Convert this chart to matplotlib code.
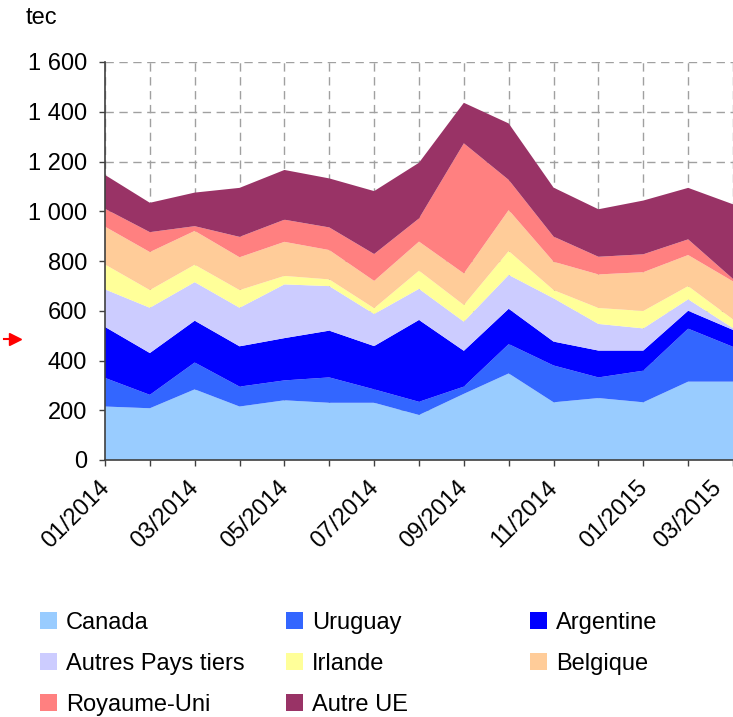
import matplotlib
matplotlib.use('Agg')
import matplotlib.pyplot as plt
import matplotlib.ticker as mtick
from matplotlib.patches import Patch
from matplotlib.lines import Line2D

plt.rcParams['font.family'] = ['Liberation Sans', 'DejaVu Sans']

months = ['01/2014', '02/2014', '03/2014', '04/2014', '05/2014', '06/2014',
          '07/2014', '08/2014', '09/2014', '10/2014', '11/2014', '12/2014',
          '01/2015', '02/2015', '03/2015']

# tec par origine, empilés dans cet ordre (bas -> haut)
canada = [215, 208, 284, 215, 240, 230, 230, 181, 266, 348, 232, 249, 232, 315, 315]
uruguay = [115, 54, 108, 80, 80, 102, 54, 53, 29, 118, 148, 83, 127, 213, 140]
argentine = [205, 168, 168, 162, 170, 188, 174, 329, 144, 142, 96, 108, 81, 72, 68]
autres_pays_tiers = [151, 182, 155, 155, 216, 179, 129, 125, 117, 136, 174, 107, 89, 46, 7]
irlande = [100, 71, 70, 71, 34, 27, 23, 73, 67, 96, 33, 64, 70, 53, 35]
belgique = [152, 153, 136, 132, 137, 118, 110, 117, 127, 165, 114, 135, 156, 125, 153]
royaume_uni = [72, 80, 19, 82, 89, 91, 108, 93, 523, 121, 101, 71, 72, 63, 10]
autre_ue = [136, 118, 135, 197, 200, 197, 253, 224, 163, 227, 197, 191, 216, 207, 300]

labels = ['Canada', 'Uruguay', 'Argentine', 'Autres Pays tiers',
          'Irlande', 'Belgique', 'Royaume-Uni', 'Autre UE']
colors = ['#99CCFF', '#3366FF', '#0000FF', '#CCCCFF',
          '#FFFF99', '#FFCC99', '#FF8080', '#993366']
series = [canada, uruguay, argentine, autres_pays_tiers,
          irlande, belgique, royaume_uni, autre_ue]

FS = 17
W, H = 733, 717

fig = plt.figure(figsize=(W / 100, H / 100), dpi=100)
ax = fig.add_axes([105 / W, 1 - 460 / H, 628 / W, 398 / H])

x = list(range(len(months)))
ax.stackplot(x, *series, colors=colors, linewidth=0, zorder=2)

ax.set_xlim(0, len(months) - 1)
ax.set_ylim(0, 1600)
ax.set_yticks(range(0, 1601, 200))
ax.yaxis.set_major_formatter(
    mtick.FuncFormatter(lambda v, p: f'{int(v):,}'.replace(',', ' ')))
ax.set_xticks(x)
ax.set_xticklabels([])

# étiquettes de mois (une sur deux), inclinées à 45°
for i, m in enumerate(months):
    if i % 2:
        continue
    dx = -5 if i < len(months) - 1 else -16
    ax.annotate(m, xy=(i, 0), xycoords=('data', 'axes fraction'),
                xytext=(dx, -12), textcoords='offset points',
                rotation=45, ha='right', va='top', rotation_mode='anchor',
                fontsize=FS, annotation_clip=False)

ax.grid(True, color='#A0A0A0', linestyle=(0, (6, 4)), linewidth=1, zorder=1)
ax.set_axisbelow(True)
for s in ['top', 'right']:
    ax.spines[s].set_visible(False)
for s in ['left', 'bottom']:
    ax.spines[s].set_color('#404040')
    ax.spines[s].set_linewidth(1.2)
    ax.spines[s].set_zorder(3)
ax.tick_params(axis='both', direction='out', length=4.5, width=1,
               color='#404040', labelsize=FS, labelcolor='black')
ax.tick_params(axis='y', pad=8.5)

fig.text(26 / W, 1 - 18 / H, 'tec', fontsize=FS, ha='left', va='center')

# petite flèche rouge à gauche
fig.add_artist(Line2D([4 / W, 14 / W], [1 - 339 / H] * 2,
                      transform=fig.transFigure, color='red', linewidth=1.5))
fig.add_artist(Line2D([15 / W], [1 - 339 / H], transform=fig.transFigure,
                      marker='>', markersize=9, color='red', linestyle='none'))

# légende : 3 colonnes, remplies ligne par ligne
handles = [Patch(facecolor=c, edgecolor='none', label=l)
           for c, l in zip(colors, labels)]
col_x = [40, 286, 530]
for c in range(3):
    idx = list(range(c, len(labels), 3))
    fig.legend([handles[i] for i in idx], [labels[i] for i in idx],
               loc='upper left', bbox_to_anchor=(col_x[c] / W, 1 - 612 / H),
               frameon=False, fontsize=FS, handlelength=0.7,
               handleheight=0.7, handletextpad=0.4, labelspacing=0.8,
               borderpad=0, borderaxespad=0)

fig.savefig('out.png', dpi=100)
